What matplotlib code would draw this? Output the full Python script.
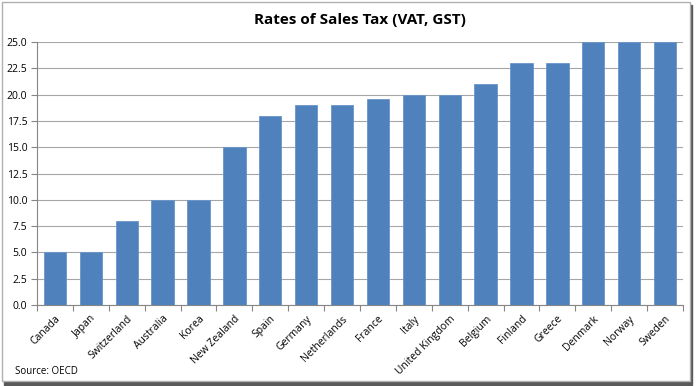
import matplotlib.pyplot as plt
import matplotlib.patches as patches
import numpy as np

countries = ['Canada', 'Japan', 'Switzerland', 'Australia', 'Korea', 'New Zealand',
             'Spain', 'Germany', 'Netherlands', 'France', 'Italy', 'United Kingdom',
             'Belgium', 'Finland', 'Greece', 'Denmark', 'Norway', 'Sweden']
rates = [5, 5, 8, 10, 10, 15, 18, 19, 19, 19.6, 20, 20, 21, 23, 23, 25, 25, 25]
yticks = [0, 2.5, 5, 7.5, 10, 12.5, 15, 17.5, 20, 22.5, 25]

plt.rcParams['font.family'] = ['Open Sans', 'DejaVu Sans']

fig = plt.figure(figsize=(6.98, 3.86), dpi=100)
W, H = 698, 386

# chart border with shadow (kept behind the axes)
fig.patches.append(patches.Rectangle((4 / W, 1 - 385 / H), 688 / W, 380 / H,
                                     transform=fig.transFigure, color='#5a5a5a', zorder=-2))
fig.patches.append(patches.Rectangle((2 / W, 1 - 381 / H), 688 / W, 379 / H,
                                     transform=fig.transFigure, facecolor='white',
                                     edgecolor='#b0b0b0', lw=1, zorder=-1))

ax = fig.add_axes([37 / W, 1 - 305 / H, (683 - 37) / W, (305 - 42) / H])
ax.set_facecolor('none')
x = np.arange(len(countries))
ax.bar(x, rates, width=0.62, color='#4f81bd', edgecolor='#6a95c8', linewidth=0.6, zorder=3)

ax.set_xlim(-0.5, len(countries) - 0.5)
ax.set_ylim(0, 25)
ax.set_yticks(yticks)
ax.set_yticklabels([f'{v:.1f}' for v in yticks], fontsize=7.5)
ax.yaxis.grid(True, color='#a6a6a6', lw=0.8, zorder=0)

ax.set_xticks(x)
ax.set_xticklabels(countries, rotation=45, ha='right', rotation_mode='anchor', fontsize=7.5)
ax.set_xticks(np.arange(len(countries) + 1) - 0.5, minor=True)
ax.tick_params(axis='x', which='major', length=0, pad=6)
ax.tick_params(axis='x', which='minor', length=4, color='#868686', width=0.8)
ax.tick_params(axis='y', length=4, color='#868686', width=0.8, pad=3)

for s in ['top', 'right']:
    ax.spines[s].set_visible(False)
ax.spines['left'].set_color('#868686')
ax.spines['bottom'].set_color('#868686')
ax.spines['left'].set_linewidth(0.8)
ax.spines['bottom'].set_linewidth(0.8)

fig.text(360 / W, 1 - 20 / H, 'Rates of Sales Tax (VAT, GST)', ha='center', va='center',
         fontsize=11, fontweight='bold')
fig.text(15 / W, 1 - 372 / H, 'Source: OECD', ha='left', va='center', fontsize=7)

plt.savefig('out.png', dpi=100)
